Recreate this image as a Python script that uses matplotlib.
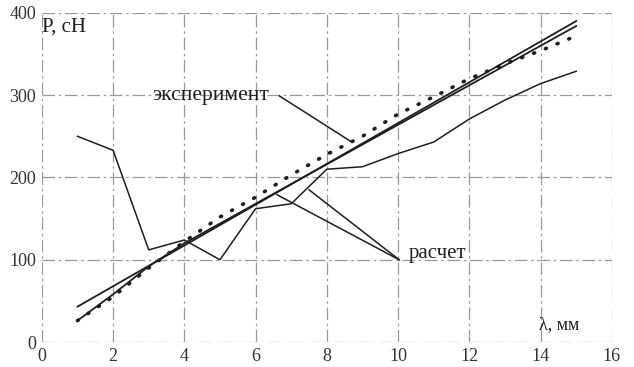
import matplotlib.pyplot as plt
import numpy as np

plt.rcParams['font.family'] = ['Liberation Serif', 'DejaVu Serif']

# длина волны, мм
lam = [1, 2, 3, 4, 5, 6, 7, 8, 9, 10, 11, 12, 13, 14, 15]

# эксперимент (точки)
p_exp = [26, 55, 90, 122, 152, 176, 203, 228, 250, 277, 298, 320, 338, 354, 372]

# расчет: прямая
lam_line = [1, 15]
p_line = [43, 390]

# расчет: вторая кривая
lam_calc2 = [1, 2, 3, 4, 15]
p_calc2 = [26, 58, 92, 120, 384]

# расчет: ломаная
lam_calc3 = [1, 2, 3, 4, 5, 6, 7, 8, 9, 10, 11, 12, 13, 14, 15]
p_calc3 = [250, 233, 112, 124, 100, 162, 168, 210, 213, 229, 243, 271, 294, 314, 329]

x_ticks = [0, 2, 4, 6, 8, 10, 12, 14, 16]
y_ticks = [0, 100, 200, 300, 400]

fig = plt.figure(figsize=(6.34, 3.67), dpi=100)
ax = fig.add_axes([0.066, 0.068, 0.899, 0.897])

ink = '#1e1e1e'
ax.plot(lam_line, p_line, color=ink, lw=1.3)
ax.plot(lam_calc2, p_calc2, color=ink, lw=1.3)
ax.plot(lam_calc3, p_calc3, color=ink, lw=1.1)
ax.plot(lam, p_exp, color=ink, lw=2.6, linestyle=(0, (0.3, 3.2)),
        dash_capstyle='round')

# выноски
ax.plot([6.67, 8.7], [299, 243], color=ink, lw=1.1)
ax.plot([10.03, 7.5], [100, 185], color=ink, lw=1.1)
ax.plot([10.03, 6.6], [100, 179], color=ink, lw=1.1)

ax.text(6.39, 300, 'эксперимент', ha='right', va='center', fontsize=15.5,
        color=ink)
ax.text(10.3, 108, 'расчет', ha='left', va='center', fontsize=15, color=ink)
ax.text(0.0, 394, 'Р, сН', ha='left', va='top', fontsize=15, color=ink)
ax.text(13.95, 21, 'λ, мм', ha='left', va='center', fontsize=13, color=ink)

ax.set_xlim(0, 16)
ax.set_ylim(0, 400)
ax.set_xticks(x_ticks)
ax.set_yticks(y_ticks)
ax.tick_params(length=0, labelsize=13, labelcolor='#333333', pad=4)
for s in ax.spines.values():
    s.set_visible(False)
ax.grid(True, color='#999999', lw=0.9, linestyle=(0, (10, 3, 2, 3)))
for lbl in ax.get_xticklabels():
    lbl.set_clip_on(False)

fig.savefig('out.png', dpi=100)
